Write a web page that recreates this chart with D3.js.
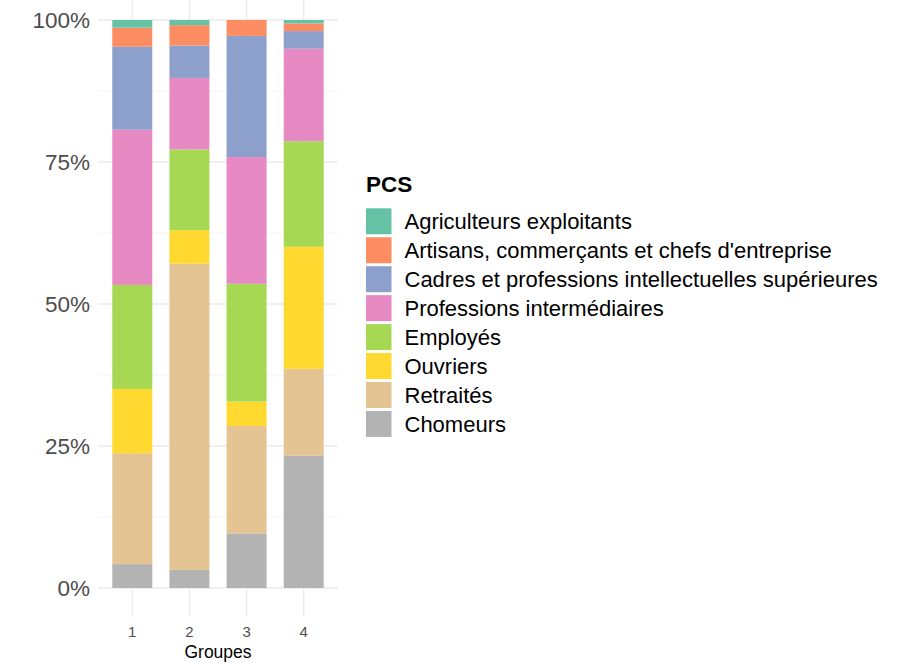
<!DOCTYPE html>
<html><head><meta charset="utf-8">
<script src="https://cdn.jsdelivr.net/npm/d3@7"></script>
<style>body{margin:0;background:#fff;}svg{display:block;font-family:"Liberation Sans",Arial,sans-serif;}</style>
</head><body>
<svg id="c" width="912" height="663"></svg>
<script>
const groupes = ["1","2","3","4"];
const categories = ["Agriculteurs exploitants","Artisans, commerçants et chefs d'entreprise","Cadres et professions intellectuelles supérieures","Professions intermédiaires","Employés","Ouvriers","Retraités","Chomeurs"];
const colors = ["#66c2a5","#fc8d62","#8da0cb","#e78ac3","#a6d854","#ffd92f","#e5c494","#b3b3b3"];
// percentages per group, in category order
const agriculteurs = [1.35, 0.9, 0.0, 0.6];
const artisans     = [3.35, 3.6, 2.8, 1.35];
const cadres       = [14.6, 5.7, 21.3, 3.1];
const profInter    = [27.3, 12.6, 22.3, 16.3];
const employes     = [18.3, 14.2, 20.7, 18.6];
const ouvriers     = [11.3, 5.9, 4.3, 21.5];
const retraites    = [19.5, 53.9, 18.9, 15.3];
const chomeurs     = [4.2, 3.2, 9.6, 23.3];
const yTicks = [0, 0.25, 0.5, 0.75, 1];
const yMinor = [0.125, 0.375, 0.625, 0.875];

const series = [agriculteurs, artisans, cadres, profInter, employes, ouvriers, retraites, chomeurs];
const rows = groupes.map((g, i) => {
  const o = {groupe: g};
  let tot = 0;
  series.forEach(s => tot += s[i]);
  categories.forEach((c, k) => o[c] = series[k][i] / tot);
  return o;
});

const svg = d3.select("#c");
const panel = {left: 98, right: 338, top: -8.4, bottom: 616.4};
const x = d3.scaleBand().domain(groupes).range([panel.left, panel.right]).paddingInner(0.3).paddingOuter(0.25);
const y = d3.scaleLinear().domain([0, 1]).range([588, 20]);

// gridlines
const g = svg.append("g");
g.selectAll(".minor").data(yMinor).join("line")
  .attr("x1", panel.left).attr("x2", panel.right)
  .attr("y1", d => y(d)).attr("y2", d => y(d))
  .attr("stroke", "#f2f2f2").attr("stroke-width", 0.8);
g.selectAll(".major").data(yTicks).join("line")
  .attr("x1", panel.left).attr("x2", panel.right)
  .attr("y1", d => y(d)).attr("y2", d => y(d))
  .attr("stroke", "#ebebeb").attr("stroke-width", 1.4);
g.selectAll(".vx").data(groupes).join("line")
  .attr("x1", d => x(d) + x.bandwidth() / 2).attr("x2", d => x(d) + x.bandwidth() / 2)
  .attr("y1", panel.top).attr("y2", panel.bottom)
  .attr("stroke", "#ebebeb").attr("stroke-width", 1.4);

// stacked bars: Chomeurs at bottom
const keys = categories.slice().reverse();
const stack = d3.stack().keys(keys)(rows);
const color = d3.scaleOrdinal().domain(categories).range(colors);
svg.append("g").selectAll("g").data(stack).join("g")
  .attr("fill", d => color(d.key))
  .selectAll("rect").data(d => d).join("rect")
  .attr("x", d => x(d.data.groupe))
  .attr("width", x.bandwidth())
  .attr("y", d => y(d[1]))
  .attr("height", d => Math.max(0, y(d[0]) - y(d[1])));

// y axis labels
svg.append("g").selectAll("text").data(yTicks).join("text")
  .attr("x", 90).attr("y", d => y(d)).attr("dy", "0.36em")
  .attr("text-anchor", "end").attr("font-size", 22.5).attr("fill", "#4d4d4d")
  .text(d => d3.format(".0%")(d));

// x axis labels
svg.append("g").selectAll("text").data(groupes).join("text")
  .attr("x", d => x(d) + x.bandwidth() / 2).attr("y", 637)
  .attr("text-anchor", "middle").attr("font-size", 15).attr("fill", "#4d4d4d")
  .text(d => d);
svg.append("text").attr("x", (panel.left + panel.right) / 2).attr("y", 658)
  .attr("text-anchor", "middle").attr("font-size", 17.5).attr("fill", "#000").text("Groupes");

// legend
const lg = svg.append("g").attr("transform", "translate(366,0)");
lg.append("text").attr("x", 0).attr("y", 192).attr("font-size", 22.5).attr("font-weight", "bold").text("PCS");
const item = lg.selectAll(".it").data(categories).join("g")
  .attr("transform", (d, i) => `translate(0,${208.3 + i * 28.95})`);
item.append("rect").attr("width", 25.5).attr("height", 26).attr("fill", d => color(d));
item.append("text").attr("x", 38.5).attr("y", 13).attr("dy", "0.36em")
  .attr("font-size", 22).attr("fill", "#000").text(d => d);
</script>
</body></html>
